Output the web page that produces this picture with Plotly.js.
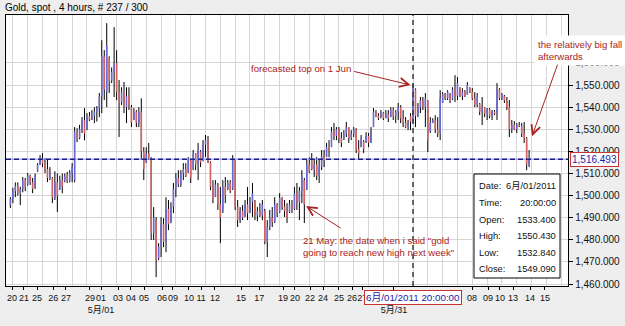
<!DOCTYPE html>
<html>
<head>
<meta charset="utf-8">
<script src="https://cdn.plot.ly/plotly-3.0.1.min.js"></script>
<style>
  html, body { margin: 0; padding: 0; background: #eeeeee; }
  #chart { width: 625px; height: 326px; }
</style>
</head>
<body>
<div id="chart"></div>
<script>
// ---- data: Gold spot, 4-hour bars ----
const open = [
  1495.5,1498.5,1502,1504.5,1501,1503,1507,1505,1509,1506,
  1503.5,1511,1514,1517,1514.5,1512,1508,1508,1499,1506,
  1503,1507,1506.5,1509.5,1506.5,1510,1507,1529,1526,1530,
  1534,1530,1536,1534.5,1536,1538,1539.5,1545,1563,1547,
  1562,1552,1556,1560,1547,1542,1547,1540,1545,1540,
  1534.5,1538,1533,1538,1520,1515,1519,1517,1483,1489,
  1471.5,1477,1487,1479,1494,1488,1495,1503,1508,1505,
  1510,1512,1510.5,1516,1512,1519,1514,1520,1516,1523,
  1525,1515,1504,1499.5,1505,1496,1493,1504,1503,1506,
  1503,1516,1495,1489,1493,1490.5,1496,1492.5,1497,1497.5,
  1491,1493,1491,1493,1479,1486,1490,1488,1496,1492.5,
  1499,1495,1493,1492.5,1496,1494,1501,1497,1502,1507,
  1503,1514,1516,1512,1514,1509,1513,1518,1517.5,1522,
  1522,1529,1527,1530,1526,1525.5,1528,1531,1526,1528,
  1530,1521,1522,1524.5,1524,1527,1524,1531,1538,1536,
  1535.5,1537.5,1535,1537,1535.5,1539,1536,1538,1540,1535,
  1533,1531,1536,1533.4,1548,1536,1540,1543,1540,1543,
  1529,1533,1534,1530,1528,1542,1546,1544,1546,1543.5,
  1548,1545,1549,1545,1547,1545.5,1549,1547,1544,1541,
  1541.5,1538,1540,1537,1539,1536,1538,1537,1548,1544,
  1545,1543,1540,1530,1532,1530,1532,1531.5,1528,1526,
  1514
];
const high = [
  1499.3,1503.5,1506,1506,1504,1508.4,1508,1510.2,1509.5,1508,
  1510,1514.7,1518.3,1519.2,1517,1516.1,1512.9,1508.4,1511,1510,
  1509,1510,1510,1510.7,1511.5,1514.7,1531,1530.5,1532,1535.5,
  1539.6,1537.3,1537.8,1538.7,1540,1540.5,1546.4,1570.3,1565.8,1578,
  1563,1558,1576.2,1565.8,1552.3,1549,1551.4,1549,1549,1541,
  1539.6,1538.7,1540,1544,1521.9,1521.9,1523.8,1517.4,1494.8,1490.3,
  1478.5,1490.3,1489.8,1499.3,1498,1497,1505.7,1510.2,1511.5,1511.5,
  1514.7,1514.7,1517.4,1516.1,1520.6,1519.2,1523.8,1520.6,1525.1,1527.4,
  1527,1515.5,1507,1507,1505.7,1503.9,1507,1508.4,1507,1507,
  1518.3,1516.1,1498,1494.8,1495.7,1498,1503.9,1499.3,1505.7,1498,
  1494.8,1496.6,1498,1494,1488.9,1493.5,1494.8,1499.3,1496.6,1501.1,
  1499.3,1498,1496.6,1498,1498,1503.9,1505.7,1503.9,1511.5,1508,
  1516.1,1517.4,1519.2,1516.1,1517.4,1516.1,1520.6,1520.6,1523.8,1525.1,
  1531,1532.8,1531,1531,1528.7,1529.6,1533.3,1531,1529.6,1531,
  1530.5,1525.1,1527.4,1525.1,1528.7,1528.3,1531,1539.6,1538.7,1537.3,
  1538.7,1537.8,1538.7,1538.7,1540,1540,1538.7,1541.9,1540.9,1538.7,
  1535.5,1534.2,1537.3,1550.43,1548.5,1541.9,1544.6,1544.6,1546.4,1543.2,
  1535.5,1535,1536.4,1535.5,1547.7,1546.8,1546.4,1547.7,1546.4,1549,
  1554.5,1553.6,1549,1548.6,1547.7,1551.4,1549,1548.6,1546.8,1546.4,
  1541.9,1544.6,1540,1539.6,1539.6,1538.7,1538.7,1550.9,1548.6,1546.4,
  1545.5,1544.6,1543.2,1534.2,1533.7,1532.8,1533.3,1532.8,1533.3,1526.5,
  1520.6
];
const low = [
  1494.4,1496.6,1499.3,1500,1495.7,1501.5,1502,1504.5,1504.8,1501.1,
  1503,1510.7,1513.8,1512.9,1510.2,1506.1,1507,1496.6,1498,1492.6,
  1502.5,1501,1506,1505.7,1506,1506,1506,1524.2,1525.5,1528.3,
  1525,1529.6,1533.7,1534.2,1532.8,1533.5,1535.5,1537.3,1543.2,1540,
  1546.4,1550.9,1544.6,1543.2,1526.5,1541,1537.3,1532.8,1538.7,1531,
  1534.2,1531,1531,1516.1,1507,1514.7,1516.1,1479.9,1479.9,1463.1,
  1470.8,1472.2,1476.7,1474.4,1484.4,1487.5,1492.1,1499.3,1503.9,1503.9,
  1507,1508.4,1510.2,1505.7,1511.5,1511.5,1507,1512.9,1515.5,1517.4,
  1514.7,1502.5,1496.6,1499.3,1493.5,1478.5,1492.1,1496.6,1502.5,1501.1,
  1502.5,1493.5,1485.8,1487.6,1488.9,1490.3,1488.9,1492.1,1490.3,1488.9,
  1488.4,1490.3,1488.9,1478,1472.2,1484.4,1485.8,1487.6,1490.3,1492.1,
  1493.5,1490.3,1487.6,1492.1,1492.1,1493.5,1493.5,1488.9,1496.6,1487.6,
  1502.5,1510.2,1511.5,1508.4,1507,1505.7,1511.5,1512.9,1517.4,1517.4,
  1521.9,1525.1,1525.1,1523.8,1521.9,1525.1,1526.5,1523.8,1525.1,1526.5,
  1519.2,1516.1,1521.9,1519.2,1523.8,1521.9,1523.8,1531,1535.5,1534.2,
  1535,1534.2,1535,1533.3,1535.5,1534.2,1532.8,1534.2,1532.8,1531,
  1530.5,1529.6,1529.6,1532.84,1531,1535.5,1537.3,1538.7,1531,1519.7,
  1528.3,1532.8,1528.3,1526.5,1525.1,1541.9,1543.2,1543.2,1541.9,1543.2,
  1542.3,1543.2,1544.6,1543.2,1544.6,1545.5,1546.4,1543.2,1540,1540,
  1536.4,1531.9,1535.5,1534.2,1535,1534.2,1536.4,1534.2,1543.2,1543.2,
  1541.9,1538.7,1526.5,1528.3,1529.6,1528.3,1531,1526.5,1523.8,1511.5,
  1512.9
];
const close = [
  1498.5,1502,1504.5,1501,1503,1507,1504,1509,1506,1503,
  1509,1514,1517,1514.5,1512,1508,1511,1499,1506,1500,
  1507,1504,1509,1506.5,1510.5,1513,1529,1526,1530,1534,
  1528,1536,1534.5,1536,1538,1539.5,1545,1563,1548,1568,
  1552,1556,1560,1547,1542,1547,1540,1545,1541,1533,
  1538,1533,1538,1520,1512,1519,1517,1483,1490,1471,
  1477,1487,1479,1494,1487,1495,1503,1508,1505,1510,
  1512,1509,1516,1508,1519,1514,1521,1515,1523,1525,
  1515,1504,1499,1505,1496,1490,1504,1500,1506,1502,
  1516,1495,1489,1493,1490,1496,1492,1497,1501,1491,
  1493,1491,1496,1479,1486,1490,1488,1496,1492,1499,
  1495,1493,1490,1496,1493.5,1501,1497,1502,1509,1496,
  1514,1511,1512,1514,1509,1513,1518,1516,1522,1520,
  1529,1527,1530,1526,1524,1528,1531,1526,1528,1530,
  1521,1519,1526,1521,1527,1524,1529,1538,1536,1535,
  1537.5,1535,1537,1535,1539,1536,1538,1540,1535,1533,
  1531,1533,1533.4,1549.09,1536,1540,1543,1540,1544,1525,
  1533,1534,1530,1528,1544,1546,1544,1547,1543,1548,
  1545,1551,1545,1547,1545,1550,1547,1544,1541,1545,
  1538,1540,1537,1539,1536,1538,1537,1548,1544,1546,
  1543,1540,1530,1532,1530,1532,1531.5,1528,1526,1514,
  1516.493
];
const lastPrice = 1516.493;
const cursorIndex = 163;                       // bar at 6月/01/2011 20:00
const cursorLabel = '6月/01/2011 20:00:00';
const cursorDate = '6月/01/2011';
const cursorTime = '20:00:00';

const tickIndex = [0.65,5.5,10.8,17.3,22.5,32.2,36.7,43.6,48.8,54.1,61.4,65.8,72.3,77.2,82.8,93.4,100.7,110.4,115.2,121.3,126.6,133,138.3,142.5,155.3,186.9,193.4,198.2,203.5,210.4,216.4];
const tickText  = ['20','21','25','26','27','29','01<br>5月/01','03','04','05','06','09','10','11','12','15','17','19','20','22','24','25','26','27','\u00a0<br>5月/31','08','09','10','13','14','15'];
const priceTicks = [1460,1470,1480,1490,1500,1510,1520,1530,1540,1550,1560];

const titleText = 'Gold, spot , 4 hours, # 237 / 300';
const noteTop   = 'forecasted top on 1 Jun';
const noteFall  = 'the relatively big fall<br>afterwards';
const noteMay   = '21 May: the date when i said "gold<br>going to reach new high next week"';

// ---- build traces ----
const xIdx = open.map((_, i) => i);
const bodyHigh = open.map((o, i) => Math.max(o, close[i]));
const bodyLow  = open.map((o, i) => Math.min(o, close[i]));

const FONT = 'Liberation Sans, Arial, Noto Sans CJK SC, sans-serif';
const RED = '#a82222';

const wicks = {
  type: 'ohlc', x: xIdx, open: open, high: high, low: low, close: close,
  xaxis: 'x', yaxis: 'y', tickwidth: 0, hoverinfo: 'skip',
  increasing: { line: { color: '#000000', width: 1 } },
  decreasing: { line: { color: '#000000', width: 1 } },
  showlegend: false
};
const bodies = {
  type: 'ohlc', x: xIdx, open: open, high: bodyHigh, low: bodyLow, close: close,
  xaxis: 'x2', yaxis: 'y', tickwidth: 0, hoverinfo: 'skip',
  increasing: { line: { color: '#6a6ad6', width: 1.6 } },
  decreasing: { line: { color: '#d46262', width: 1.6 } },
  showlegend: false
};

const xRange = [-1.78, 225.75];
const yRange = [1459.1, 1581.7];

const fmtPrice = lastPrice.toLocaleString('en-US', { minimumFractionDigits: 3, maximumFractionDigits: 3 });

const infoLabels = ['Date:', 'Time:', 'Open:', 'High:', 'Low:', 'Close:'];
const infoValues = [cursorDate, cursorTime,
  open[cursorIndex].toFixed(3), high[cursorIndex].toFixed(3),
  low[cursorIndex].toFixed(3), close[cursorIndex].toFixed(3)];
const infoRowY = [0.369, 0.306, 0.244, 0.185, 0.122, 0.063];

const annotations = [
  { xref: 'paper', yref: 'paper', x: 0.4324, y: 0.8044, xanchor: 'left', yanchor: 'middle',
    text: noteTop, showarrow: false, font: { family: FONT, size: 9.6, color: RED } },
  { xref: 'paper', yref: 'paper', x: 0.9395, y: 0.8708, xanchor: 'left', yanchor: 'middle', align: 'left',
    text: noteFall, showarrow: false, bgcolor: '#ffffff', borderpad: 3,
    font: { family: FONT, size: 9.6, color: RED } },
  { xref: 'paper', yref: 'paper', x: 0.5249, y: 0.1458, xanchor: 'left', yanchor: 'middle', align: 'left',
    text: noteMay, showarrow: false, font: { family: FONT, size: 9.6, color: RED } },
  // arrows
  { xref: 'x', yref: 'y', x: 162, y: 1550, text: '', showarrow: true, arrowhead: 5, arrowsize: 1.8,
    arrowwidth: 1, arrowcolor: RED, ax: -58, ay: -14 },
  { xref: 'x', yref: 'y', x: 211.2, y: 1526.9, text: '', showarrow: true, arrowhead: 5, arrowsize: 1.8,
    arrowwidth: 1, arrowcolor: RED, ax: 26, ay: -73 },
  { xref: 'x', yref: 'y', x: 119.7, y: 1495.3, text: '', showarrow: true, arrowhead: 5, arrowsize: 1.8,
    arrowwidth: 1, arrowcolor: RED, ax: 36, ay: 23 },
  // cursor date box on the x axis
  { xref: 'x', yref: 'paper', x: cursorIndex, y: -0.0406, xanchor: 'center', yanchor: 'middle',
    text: cursorLabel, showarrow: false, bgcolor: '#ffffff', bordercolor: '#c83232', borderwidth: 1, borderpad: 1,
    font: { family: FONT, size: 9.8, color: '#1c1ca8' } },
  // last price box on the y axis
  { xref: 'paper', yref: 'y', x: 1.004, y: lastPrice, xanchor: 'left', yanchor: 'middle',
    text: fmtPrice, showarrow: false, bgcolor: '#ffffff', bordercolor: '#c83232', borderwidth: 1, borderpad: 1,
    font: { family: FONT, size: 10, color: '#1c1ca8' } }
];
infoLabels.forEach((lab, k) => {
  annotations.push({ xref: 'paper', yref: 'paper', x: 0.839, y: infoRowY[k], xanchor: 'left', yanchor: 'middle',
    text: lab, showarrow: false, borderpad: 0, font: { family: FONT, size: 9.3, color: '#111' } });
  annotations.push({ xref: 'paper', yref: 'paper', x: 0.9805, y: infoRowY[k], xanchor: 'right', yanchor: 'middle',
    text: infoValues[k], showarrow: false, borderpad: 0, font: { family: FONT, size: 9.3, color: '#111' } });
});

const shapes = [
  { type: 'line', xref: 'paper', yref: 'y', x0: 0, x1: 1, y0: lastPrice, y1: lastPrice,
    line: { color: '#9090dc', width: 1 } },
  { type: 'line', xref: 'paper', yref: 'y', x0: 0, x1: 1, y0: lastPrice, y1: lastPrice,
    line: { color: '#1e1e88', width: 1.5, dash: '5px,3px' } },
  { type: 'line', xref: 'x', yref: 'paper', x0: cursorIndex, x1: cursorIndex, y0: 0, y1: 1,
    line: { color: '#3c3c3c', width: 1.5, dash: '5px,4px' } },
  { type: 'rect', xref: 'paper', yref: 'paper', x0: 0.8327, x1: 0.9858, y0: 0.0295, y1: 0.4133,
    fillcolor: '#ffffff', line: { color: '#000000', width: 1 } }
];

const layout = {
  width: 625, height: 326,
  margin: { l: 6, r: 57, t: 15, b: 40, pad: 0 },
  paper_bgcolor: '#eeeeee', plot_bgcolor: '#ffffff',
  showlegend: false,
  title: { text: titleText, x: 0.008, xanchor: 'left', xref: 'container',
           y: 0.978, yanchor: 'middle', yref: 'container',
           font: { family: FONT, size: 10, color: '#000' } },
  xaxis: {
    range: xRange, type: 'linear', tickmode: 'linear', tick0: 1, dtick: 6,
    showgrid: true, gridcolor: '#d6d6d6', gridwidth: 1,
    showticklabels: false, ticks: '', zeroline: false, automargin: false,
    showline: true, mirror: true, linecolor: '#000', linewidth: 1.2,
    rangeslider: { visible: false }, fixedrange: true
  },
  xaxis2: {
    overlaying: 'x', anchor: 'y', side: 'bottom', range: xRange, type: 'linear',
    tickmode: 'array', tickvals: tickIndex, ticktext: tickText, tickangle: 0, automargin: false,
    ticks: 'outside', ticklen: 3, tickcolor: '#000', showgrid: false, zeroline: false, showline: false,
    tickfont: { family: FONT, size: 9, color: '#111' },
    rangeslider: { visible: false }, fixedrange: true
  },
  yaxis: {
    side: 'right', range: yRange, tickmode: 'array', tickvals: priceTicks, tickformat: ',.3f',
    ticks: 'outside', ticklen: 4, tickcolor: '#000', automargin: false,
    showgrid: true, gridcolor: '#d6d6d6', zeroline: false,
    showline: true, mirror: true, linecolor: '#000', linewidth: 1.2,
    tickfont: { family: FONT, size: 10, color: '#111' }, fixedrange: true
  },
  shapes: shapes,
  annotations: annotations
};

Plotly.newPlot('chart', [wicks, bodies], layout, { displayModeBar: false, staticPlot: true });
</script>
</body>
</html>
